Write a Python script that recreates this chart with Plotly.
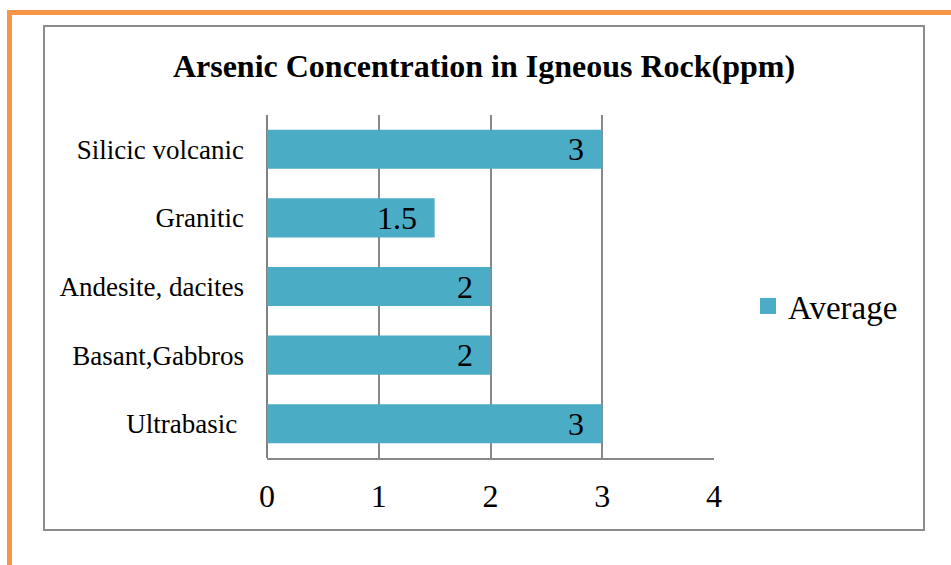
import plotly.graph_objects as go

categories = ["Ultrabasic\u00a0", "Basant,Gabbros", "Andesite, dacites", "Granitic", "Silicic volcanic"]
values = [3, 2, 2, 1.5, 3]
x_ticks = [0, 1, 2, 3, 4]
series_name = "Average"
title_text = "Arsenic Concentration in Igneous Rock(ppm)"

W, H = 951, 565
L, R, T, B = 267, 714, 115, 458
FONT = "Liberation Serif, Times New Roman, serif"
BAR = "#4BACC6"
GRID = "#888888"

def px(x):
    return (x - L) / (R - L)

def py(y):
    return (B - y) / (B - T)

fig = go.Figure()
fig.add_trace(go.Bar(
    y=categories, x=values, orientation="h", name=series_name,
    marker=dict(color=BAR, line=dict(width=0)),
    showlegend=False,
))
# legend entry with a larger square swatch (no data drawn)
fig.add_trace(go.Scatter(
    x=[None], y=[None], mode="markers", name=series_name,
    marker=dict(symbol="square", size=17, color=BAR),
    showlegend=True, hoverinfo="skip",
))

for c, v in zip(categories, values):
    fig.add_annotation(x=v, y=c, xref="x", yref="y", text=f"{v:g}",
                       showarrow=False, xanchor="right", yanchor="middle",
                       xshift=-16, font=dict(family=FONT, size=32, color="black"))

shapes = [
    # orange page border
    dict(type="line", xref="paper", yref="paper", x0=px(9.5), x1=px(951), y0=py(12.5), y1=py(12.5),
         line=dict(color="#F79646", width=5)),
    dict(type="line", xref="paper", yref="paper", x0=px(9.5), x1=px(9.5), y0=py(10), y1=py(565),
         line=dict(color="#F79646", width=5)),
    # chart area border
    dict(type="rect", xref="paper", yref="paper", x0=px(44), x1=px(924), y0=py(26), y1=py(530),
         line=dict(color="#8C8C8C", width=2), layer="below"),
]

fig.update_layout(
    width=W, height=H,
    margin=dict(l=L, r=W - R, t=T, b=H - B, pad=0),
    paper_bgcolor="white", plot_bgcolor="white",
    title=dict(text=f"<b>{title_text}</b>", xref="container", yref="container",
               x=484 / W, y=1 - 66 / H, xanchor="center", yanchor="middle",
               font=dict(family=FONT, size=32, color="black")),
    bargap=0.43,
    xaxis=dict(range=[0, 4], tickvals=x_ticks, ticktext=[str(t) for t in x_ticks],
               showgrid=True, gridcolor=GRID, gridwidth=1.5,
               zeroline=True, zerolinecolor="#808080", zerolinewidth=2,
               showline=True, linecolor=GRID, linewidth=2,
               ticks="", ticklabelstandoff=9,
               tickfont=dict(family=FONT, size=32, color="black"), fixedrange=True),
    yaxis=dict(categoryorder="array", categoryarray=categories,
               showgrid=False, zeroline=False, showline=False, ticks="",
               ticklabelstandoff=22,
               tickfont=dict(family=FONT, size=27, color="black"), fixedrange=True),
    legend=dict(x=px(748), y=py(306), xanchor="left", yanchor="middle",
                font=dict(family=FONT, size=33, color="black"),
                bgcolor="rgba(0,0,0,0)", borderwidth=0),
    shapes=shapes,
    showlegend=True,
)

fig.write_html("out.html", config={"displayModeBar": False},
               post_script="document.body.style.margin='0';")
